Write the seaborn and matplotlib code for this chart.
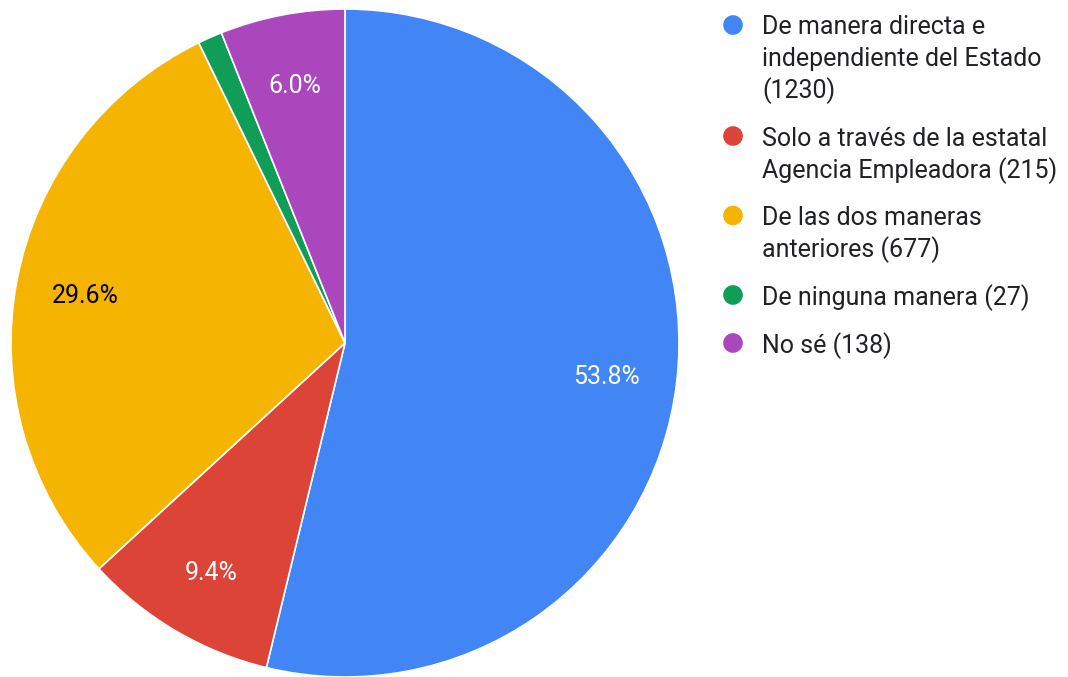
import matplotlib
matplotlib.use('Agg')

import matplotlib.pyplot as plt
import seaborn as sns
import numpy as np

# ------------------------------------------------------------------------
# data
# ------------------------------------------------------------------------
categories = ['De manera directa e\nindependiente del Estado',
              'Solo a través de la estatal\nAgencia Empleadora',
              'De las dos maneras\nanteriores',
              'De ninguna manera',
              'No sé']
counts = [1230, 215, 677, 27, 138]
colors = ['#4285F4', '#DB4437', '#F4B400', '#0F9D58', '#AB47BC']
pct_text_colors = ['white', 'white', 'black', 'white', 'white']

sns.set_style('white')
plt.rcParams['font.family'] = ['Roboto', 'DejaVu Sans']

W, H = 1068, 677
fig = plt.figure(figsize=(W / 100, H / 100), dpi=100)

# pie axes, placed in pixels
cx, cy, r = 345, 343, 334
ax = fig.add_axes([(cx - r) / W, 1 - (cy + r) / H, 2 * r / W, 2 * r / H])
wedges, texts, autotexts = ax.pie(
    counts, colors=colors, startangle=90, counterclock=False,
    autopct=lambda p: ('%.1f%%' % p) if p > 2 else '',
    pctdistance=0.79, radius=1,
    wedgeprops=dict(edgecolor='white', linewidth=1.2),
    textprops=dict(fontsize=18))
for t, c in zip(autotexts, pct_text_colors):
    t.set_color(c)
    t.set_va('center_baseline')
ax.set_xlim(-1, 1)
ax.set_ylim(-1, 1)
ax.set_aspect('equal')
ax.axis('off')

# ------------------------------------------------------------------------
# legend drawn by hand (marker on the first line of each entry)
# ------------------------------------------------------------------------
lax = fig.add_axes([0, 0, 1, 1], zorder=-1)
lax.set_xlim(0, W)
lax.set_ylim(H, 0)
lax.axis('off')

line_h = 31.5
gap = 48
y = 25
for cat, n, col in zip(categories, counts, colors):
    label = '%s (%d)' % (cat, n)
    if cat.startswith('De manera directa'):
        label = '%s\n(%d)' % (cat, n)
    lines = label.split('\n')
    lax.scatter([733], [y], s=200, color=col, edgecolor='none')
    for i, ln in enumerate(lines):
        lax.text(762, y + i * line_h, ln, fontsize=18, va='center_baseline',
                 ha='left', color='#202124')
    y += (len(lines) - 1) * line_h + gap

fig.savefig('out.png', dpi=100)
